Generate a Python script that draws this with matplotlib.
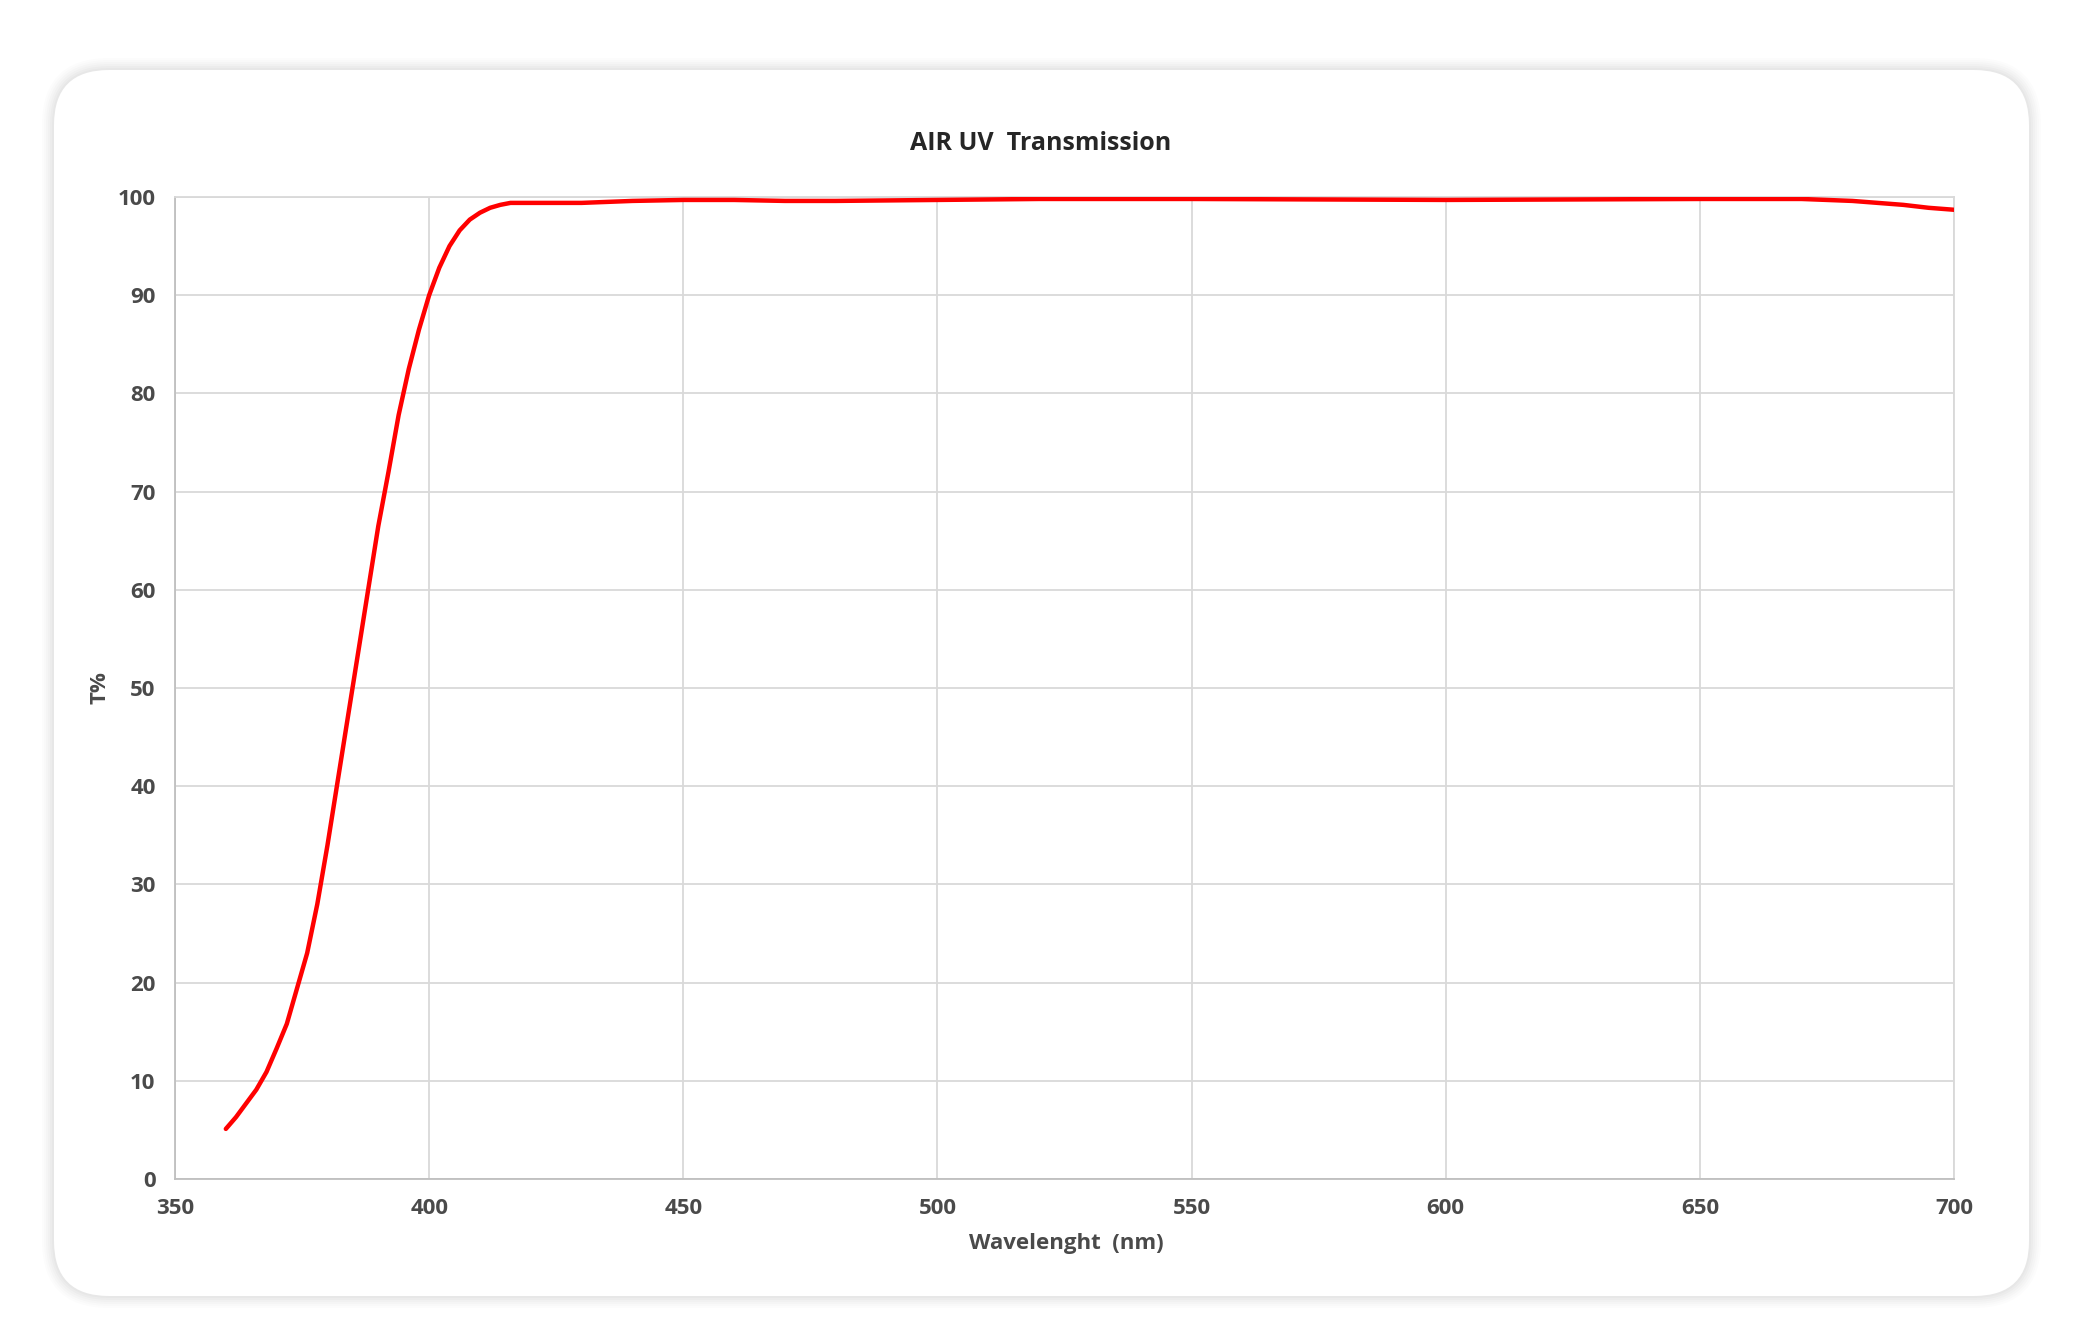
import matplotlib
matplotlib.use("Agg")
import matplotlib.pyplot as plt
from matplotlib.patches import FancyBboxPatch

plt.rcParams['font.family'] = ['Open Sans', 'DejaVu Sans']

# values
wavelength = [360, 362, 364, 366, 368, 370, 372, 374, 376, 378, 380, 382, 384,
              386, 388, 390, 392, 394, 396, 398, 400, 402, 404, 406, 408, 410,
              412, 414, 416, 420, 430, 440, 450, 460, 470, 480, 500, 520, 550,
              600, 650, 670, 680, 685, 690, 695, 700]
transmission = [5.1, 6.3, 7.7, 9.1, 10.9, 13.3, 15.8, 19.4, 23.0, 28.0, 34.0,
                40.5, 47.0, 53.5, 60.0, 66.5, 72.0, 77.8, 82.5, 86.5, 90.0,
                92.8, 95.0, 96.6, 97.7, 98.4, 98.9, 99.2, 99.4, 99.4, 99.4,
                99.6, 99.7, 99.7, 99.6, 99.6, 99.7, 99.8, 99.8, 99.7, 99.8,
                99.8, 99.6, 99.4, 99.2, 98.9, 98.7]
x_ticks = [350, 400, 450, 500, 550, 600, 650, 700]
y_ticks = [0, 10, 20, 30, 40, 50, 60, 70, 80, 90, 100]

W, H = 2084, 1342
fig = plt.figure(figsize=(W / 100, H / 100), dpi=100)
fig.patch.set_facecolor('white')

# card with a soft shadow (pixel units via inches)
cx0, cy0, cx1, cy1 = 54, 70, 2029, 1296
for i, a in enumerate([0.012, 0.012, 0.014, 0.016, 0.018, 0.02]):
    g = 12 - 2 * i
    sh = FancyBboxPatch(((cx0 - g) / 100, (H - cy1 - g) / 100),
                        (cx1 - cx0 + 2 * g) / 100, (cy1 - cy0 + 2 * g) / 100,
                        boxstyle="round,pad=0,rounding_size=%f" % ((55 + g) / 100),
                        transform=fig.dpi_scale_trans, facecolor='black',
                        edgecolor='none', alpha=a, zorder=0)
    fig.patches.append(sh)
card = FancyBboxPatch((cx0 / 100, (H - cy1) / 100), (cx1 - cx0) / 100, (cy1 - cy0) / 100,
                      boxstyle="round,pad=0,rounding_size=0.55",
                      transform=fig.dpi_scale_trans, facecolor='white',
                      edgecolor='none', zorder=1)
fig.patches.append(card)

left, right, top, bottom = 175, 1954, 197, 1179
ax = fig.add_axes([left / W, (H - bottom) / H, (right - left) / W, (bottom - top) / H])
ax.set_zorder(2)
ax.patch.set_alpha(0)

ax.plot(wavelength, transmission, color='#ff0000', lw=3.2, solid_capstyle='round', zorder=3)

ax.set_xlim(350, 700)
ax.set_ylim(0, 100)
ax.set_xticks(x_ticks)
ax.set_yticks(y_ticks)
ax.grid(True, color='#d9d9d9', lw=1.3)
ax.set_axisbelow(True)
for s in ax.spines.values():
    s.set_color('#d9d9d9')
    s.set_linewidth(1.3)
ax.spines['left'].set_color('#bfbfbf')
ax.spines['bottom'].set_color('#bfbfbf')
ax.tick_params(length=0, labelsize=16, labelcolor='#4a4a4a', pad=14)
for lab in ax.get_xticklabels() + ax.get_yticklabels():
    lab.set_fontweight('bold')

ax.set_xlabel('Wavelenght  (nm)', fontsize=16, fontweight='bold', color='#4a4a4a')
ax.set_ylabel('T%', fontsize=16, fontweight='bold', color='#4a4a4a')
ax.xaxis.set_label_coords(0.5008, -0.055)
ax.yaxis.set_label_coords(-0.036, 0.5)
fig.text(1041 / W, 1 - 144 / H, 'AIR UV  Transmission', ha='center', va='center',
         fontsize=18, fontweight='bold', color='#262626')

fig.savefig('out.png', dpi=100, facecolor='white')
